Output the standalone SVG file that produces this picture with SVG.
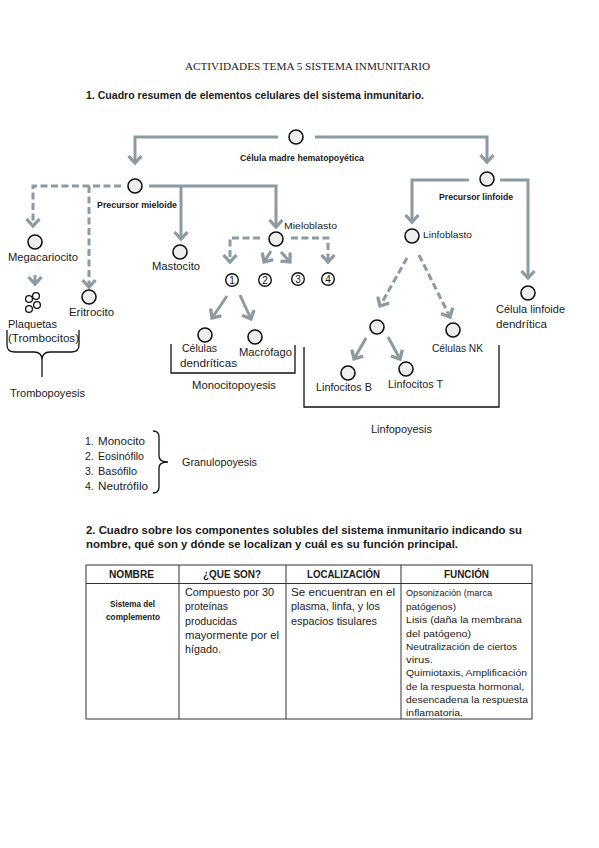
<svg xmlns="http://www.w3.org/2000/svg" width="599" height="848" viewBox="0 0 599 848">
<style>
.t{font-family:"Liberation Sans",Arial,sans-serif;fill:#1a1a1a}
.b{font-weight:bold}
.s8{font-size:8.6px}
.s85{font-size:8.8px}
.s10{font-size:10.3px}
.s105{font-size:10.5px}
.s11{font-size:11px}
.nd{fill:#eeeeee;stroke:#111;stroke-width:1.6}
.ln{fill:none;stroke:#8c9ba1;stroke-width:3}
.ds{stroke-dasharray:7 3.5}
.bk{fill:none;stroke:#111;stroke-width:1.3}
.tb{fill:none;stroke:#333;stroke-width:1}
.num{font-family:"Liberation Sans",Arial,sans-serif;font-size:10px;fill:#111;text-anchor:middle}
</style>
<defs>
<marker id="ah" viewBox="-10 -9 13 18" refX="0" refY="0" markerWidth="13" markerHeight="18" markerUnits="userSpaceOnUse" orient="auto">
<path d="M-7,-6.5 L0,0 L-7,6.5" fill="none" stroke="#8c9ba1" stroke-width="3.3"/>
</marker>
</defs>
<rect width="599" height="848" fill="#ffffff"/>

<text x="185" y="70" font-family="Liberation Serif,serif" font-size="10.5" fill="#1a1a1a" textLength="245" lengthAdjust="spacingAndGlyphs">ACTIVIDADES TEMA 5 SISTEMA INMUNITARIO</text>
<text class="t b s11" x="86" y="99" textLength="338" lengthAdjust="spacingAndGlyphs">1. Cuadro resumen de elementos celulares del sistema inmunitario.</text>

<g id="connectors">
<path class="ln" d="M278,137 H135 V163" marker-end="url(#ah)"/>
<path class="ln" d="M315,137 H487 V162" marker-end="url(#ah)"/>
<path class="ln ds" d="M121,186 H33 V226" marker-end="url(#ah)"/>
<path class="ln ds" d="M89,186 V287" marker-end="url(#ah)"/>
<path class="ln" d="M149,186 H276 V227" marker-end="url(#ah)"/>
<path class="ln" d="M181,186 V239" marker-end="url(#ah)"/>
<path class="ln" d="M35,275 V284" marker-end="url(#ah)"/>
<path class="ln ds" d="M260,238 H230 V262" marker-end="url(#ah)"/>
<path class="ln ds" d="M291,238 H328 V262" marker-end="url(#ah)"/>
<path class="ln" d="M271,251 L264,262" marker-end="url(#ah)"/>
<path class="ln" d="M281,252 L290,262" marker-end="url(#ah)"/>
<path class="ln" d="M227,296 L212,318" marker-end="url(#ah)"/>
<path class="ln" d="M240,295 L251,319" marker-end="url(#ah)"/>
<path class="ln" d="M469,180 H412 V222" marker-end="url(#ah)"/>
<path class="ln" d="M500,180 H528 V278" marker-end="url(#ah)"/>
<path class="ln ds" d="M407,258 L380,306" marker-end="url(#ah)"/>
<path class="ln ds" d="M419,255 L450,317" marker-end="url(#ah)"/>
<path class="ln" d="M366,338 L354,359" marker-end="url(#ah)"/>
<path class="ln" d="M388,337 L400,359" marker-end="url(#ah)"/>
</g>

<g id="hsc"><circle class="nd" cx="296" cy="137" r="7"/><text class="t b s8" x="240" y="161" textLength="124" lengthAdjust="spacingAndGlyphs">Célula madre hematopoyética</text></g>
<g id="pmie"><circle class="nd" cx="135" cy="186" r="7"/><text class="t b s8" x="97" y="208" textLength="80" lengthAdjust="spacingAndGlyphs">Precursor mieloide</text></g>
<g id="plin"><circle class="nd" cx="487" cy="179" r="7"/><text class="t b s8" x="439" y="200" textLength="74" lengthAdjust="spacingAndGlyphs">Precursor linfoide</text></g>
<g id="mega"><circle class="nd" cx="35" cy="242" r="7"/><text class="t s10" x="8" y="261" textLength="70" lengthAdjust="spacingAndGlyphs">Megacariocito</text></g>
<g id="plaq">
<circle cx="29" cy="299" r="3.4" fill="#fff" stroke="#111" stroke-width="1.3"/>
<circle cx="36" cy="296" r="3.4" fill="#fff" stroke="#111" stroke-width="1.3"/>
<circle cx="29" cy="309" r="3.4" fill="#fff" stroke="#111" stroke-width="1.3"/>
<circle cx="37" cy="305" r="3.4" fill="#fff" stroke="#111" stroke-width="1.3"/>
<text class="t s10" x="8" y="328" textLength="49" lengthAdjust="spacingAndGlyphs">Plaquetas</text>
<text class="t s10" x="8" y="342" textLength="71" lengthAdjust="spacingAndGlyphs">(Trombocitos)</text>
</g>
<g id="eri"><circle class="nd" cx="89" cy="297" r="7"/><text class="t s10" x="69" y="316" textLength="45" lengthAdjust="spacingAndGlyphs">Eritrocito</text></g>
<g id="mast"><circle class="nd" cx="180" cy="252" r="7"/><text class="t s10" x="152" y="270" textLength="48" lengthAdjust="spacingAndGlyphs">Mastocito</text></g>
<g id="mielo"><circle class="nd" cx="276" cy="239" r="7"/><text class="t s85" x="284" y="229" textLength="53" lengthAdjust="spacingAndGlyphs">Mieloblasto</text></g>
<g id="c1"><circle cx="232" cy="280" r="6.3" fill="#fff" stroke="#111" stroke-width="1.4"/><text class="num" x="232" y="283.6">1</text></g>
<g id="c2"><circle cx="265" cy="280" r="6.3" fill="#fff" stroke="#111" stroke-width="1.4"/><text class="num" x="265" y="283.6">2</text></g>
<g id="c3"><circle cx="298" cy="279" r="6.3" fill="#fff" stroke="#111" stroke-width="1.4"/><text class="num" x="298" y="282.6">3</text></g>
<g id="c4"><circle cx="328" cy="279" r="6.3" fill="#fff" stroke="#111" stroke-width="1.4"/><text class="num" x="328" y="282.6">4</text></g>
<g id="dend"><circle class="nd" cx="205" cy="335" r="7"/><text class="t s10" x="182" y="352" textLength="35" lengthAdjust="spacingAndGlyphs">Células</text><text class="t s10" x="180" y="367" textLength="57" lengthAdjust="spacingAndGlyphs">dendríticas</text></g>
<g id="macro"><circle class="nd" cx="255" cy="337" r="7"/><text class="t s10" x="239" y="356" textLength="53" lengthAdjust="spacingAndGlyphs">Macrófago</text></g>
<g id="linfob"><circle class="nd" cx="412" cy="236" r="7"/><text class="t s85" x="423" y="238" textLength="49" lengthAdjust="spacingAndGlyphs">Linfoblasto</text></g>
<g id="cld"><circle class="nd" cx="528" cy="293" r="7"/><text class="t s10" x="496" y="313" textLength="69" lengthAdjust="spacingAndGlyphs">Célula linfoide</text><text class="t s10" x="496" y="328" textLength="51" lengthAdjust="spacingAndGlyphs">dendrítica</text></g>
<g id="lmid"><circle class="nd" cx="377" cy="327" r="7"/></g>
<g id="nk"><circle class="nd" cx="453" cy="330" r="7"/><text class="t s10" x="432" y="352" textLength="51" lengthAdjust="spacingAndGlyphs">Células NK</text></g>
<g id="lb"><circle class="nd" cx="348" cy="373" r="7"/><text class="t s10" x="316" y="391" textLength="56" lengthAdjust="spacingAndGlyphs">Linfocitos B</text></g>
<g id="lt"><circle class="nd" cx="406" cy="369" r="7"/><text class="t s10" x="388" y="388" textLength="55" lengthAdjust="spacingAndGlyphs">Linfocitos T</text></g>

<g id="groups">
<path class="bk" d="M7,330 V345 Q7,352 15,352 H34 Q42,352 42,360 V377 M42,360 Q42,352 50,352 H71 Q79,352 79,345 V330"/>
<text class="t s10" x="10" y="397" textLength="75" lengthAdjust="spacingAndGlyphs">Trombopoyesis</text>
<path class="bk" d="M171,344 V373 H295 V345"/>
<text class="t s10" x="192" y="389" textLength="84" lengthAdjust="spacingAndGlyphs">Monocitopoyesis</text>
<path class="bk" d="M304,347 V407 H499 V345"/>
<text class="t s10" x="371" y="433" textLength="61" lengthAdjust="spacingAndGlyphs">Linfopoyesis</text>
</g>

<g id="granulo">
<text class="t s105" x="85" y="445">1.</text><text class="t s105" x="98" y="445" textLength="47" lengthAdjust="spacingAndGlyphs">Monocito</text>
<text class="t s105" x="85" y="460">2.</text><text class="t s105" x="98" y="460" textLength="46" lengthAdjust="spacingAndGlyphs">Eosinófilo</text>
<text class="t s105" x="85" y="475">3.</text><text class="t s105" x="98" y="475" textLength="39" lengthAdjust="spacingAndGlyphs">Basófilo</text>
<text class="t s105" x="85" y="490">4.</text><text class="t s105" x="98" y="490" textLength="50" lengthAdjust="spacingAndGlyphs">Neutrófilo</text>
<path class="bk" d="M153,431 Q159,431 159,437 V456 Q159,462 168,462 Q159,462 159,468 V487 Q159,493 153,493"/>
<text class="t s105" x="182" y="466" textLength="75" lengthAdjust="spacingAndGlyphs">Granulopoyesis</text>
</g>

<text class="t b s11" x="86" y="534" textLength="436" lengthAdjust="spacingAndGlyphs">2. Cuadro sobre los componentes solubles del sistema inmunitario indicando su</text>
<text class="t b s11" x="86" y="548" textLength="372" lengthAdjust="spacingAndGlyphs">nombre, qué son y dónde se localizan y cuál es su función principal.</text>

<g id="table">
<rect class="tb" x="86" y="565" width="446" height="154"/>
<line class="tb" x1="86" y1="583.5" x2="532" y2="583.5"/>
<line class="tb" x1="179" y1="565" x2="179" y2="719"/>
<line class="tb" x1="286" y1="565" x2="286" y2="719"/>
<line class="tb" x1="401" y1="565" x2="401" y2="719"/>
<text class="t b s10" x="109" y="578" textLength="45" lengthAdjust="spacingAndGlyphs">NOMBRE</text>
<text class="t b s10" x="203" y="578" textLength="58" lengthAdjust="spacingAndGlyphs">¿QUE SON?</text>
<text class="t b s10" x="307" y="578" textLength="73" lengthAdjust="spacingAndGlyphs">LOCALIZACIÓN</text>
<text class="t b s10" x="444" y="578" textLength="45" lengthAdjust="spacingAndGlyphs">FUNCIÓN</text>
<text class="t b s8" x="110" y="607" textLength="45" lengthAdjust="spacingAndGlyphs">Sistema del</text>
<text class="t b s8" x="106" y="620" textLength="54" lengthAdjust="spacingAndGlyphs">complemento</text>
<g class="t s10">
<text x="185" y="596" textLength="89" lengthAdjust="spacingAndGlyphs">Compuesto por 30</text>
<text x="185" y="610" textLength="43" lengthAdjust="spacingAndGlyphs">proteínas</text>
<text x="185" y="625" textLength="52" lengthAdjust="spacingAndGlyphs">producidas</text>
<text x="185" y="639" textLength="94" lengthAdjust="spacingAndGlyphs">mayormente por el</text>
<text x="185" y="653" textLength="36" lengthAdjust="spacingAndGlyphs">hígado.</text>
<text x="291" y="596" textLength="104" lengthAdjust="spacingAndGlyphs">Se encuentran en el</text>
<text x="291" y="610" textLength="89" lengthAdjust="spacingAndGlyphs">plasma, linfa, y los</text>
<text x="291" y="625" textLength="86" lengthAdjust="spacingAndGlyphs">espacios tisulares</text>
</g>
<g class="t" font-size="9">
<text x="406" y="596" font-size="9" textLength="86" lengthAdjust="spacingAndGlyphs">Opsonización (marca</text>
<text x="406" y="610" textLength="50" lengthAdjust="spacingAndGlyphs">patógenos)</text>
<text x="406" y="623" textLength="116" lengthAdjust="spacingAndGlyphs">Lisis (daña la membrana</text>
<text x="406" y="637" textLength="65" lengthAdjust="spacingAndGlyphs">del patógeno)</text>
<text x="406" y="650" textLength="111" lengthAdjust="spacingAndGlyphs">Neutralización de ciertos</text>
<text x="406" y="663" textLength="27" lengthAdjust="spacingAndGlyphs">virus.</text>
<text x="406" y="676" textLength="121" lengthAdjust="spacingAndGlyphs">Quimiotaxis, Amplificación</text>
<text x="406" y="690" textLength="118" lengthAdjust="spacingAndGlyphs">de la respuesta hormonal,</text>
<text x="406" y="703" textLength="122" lengthAdjust="spacingAndGlyphs">desencadena la respuesta</text>
<text x="406" y="716" textLength="57" lengthAdjust="spacingAndGlyphs">inflamatoria.</text>
</g>
</g>
</svg>
